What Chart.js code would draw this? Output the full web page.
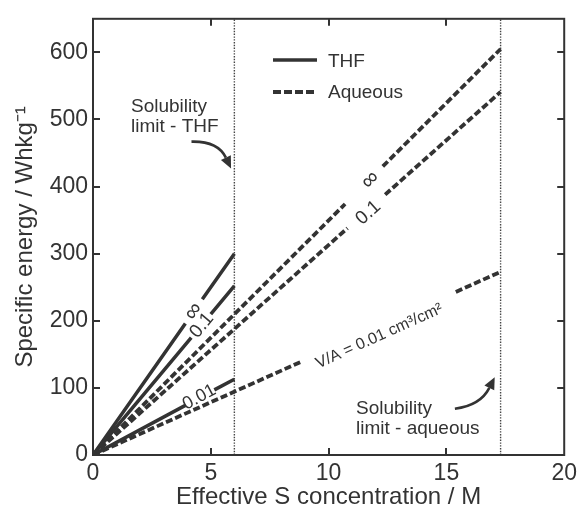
<!DOCTYPE html>
<html><head><meta charset="utf-8">
<script src="https://cdn.jsdelivr.net/npm/chart.js@4.4.1/dist/chart.umd.min.js"></script>
<style>html,body{margin:0;padding:0;background:#fff}#wrap{width:582px;height:512px}</style>
</head><body><div id="wrap"><canvas id="c" width="582" height="512"></canvas></div>
<script>
const FONT = '"Liberation Sans", Arial, Helvetica, sans-serif';
const INK = '#333333';

const xTicks = [0, 5, 10, 15, 20];
const yTicks = [0, 100, 200, 300, 400, 500, 600];

// THF (solid); null y = gap left for the in-line label
const thfInfX = [0, 3.92, 4.28, 4.64, 6];
const thfInfY = [0, 196, null, 232, 300];
const thf01X  = [0, 4.17, 4.6, 5.0, 6];
const thf01Y  = [0, 175, null, 210, 252];
const thf001X = [0, 3.92, 4.5, 5.15, 6];
const thf001Y = [0, 74, null, 97, 113];
// Aqueous (dashed)
const aqInfX = [0, 10.7, 11.5, 12.3, 17.3];
const aqInfY = [0, 374, null, 430, 605];
const aq01X  = [0, 10.8, 11.6, 12.4, 17.3];
const aq01Y  = [0, 338, null, 388, 541];
const aq001X = [0, 8.9, 12.1, 15.4, 17.3];
const aq001Y = [0, 140, null, 243, 273];

const solubilityLimits = [6, 17.3]; // THF, aqueous
const seriesLabels = ['\u221E', '0.1', '0.01', '\u221E', '0.1', 'V/A = 0.01 cm\u00B3/cm\u00B2'];
const legendLabels = ['THF', 'Aqueous'];

const pts = (xs, ys) => xs.map((x, i) => ({x: x, y: ys[i]}));
const solid = {borderColor: INK, borderWidth: 3.5, pointRadius: 0, showLine: true, spanGaps: false, fill: false};
const dashed = Object.assign({}, solid, {borderWidth: 3.8, borderDash: [7, 3], borderCapStyle: 'butt'});
const limitStyle = {borderColor: '#444', borderWidth: 1.4, borderDash: [1.4, 1.4], pointRadius: 0, showLine: true, fill: false};

const seriesDefs = [
  [thfInfX, thfInfY, solid], [thf01X, thf01Y, solid], [thf001X, thf001Y, solid],
  [aqInfX, aqInfY, dashed], [aq01X, aq01Y, dashed], [aq001X, aq001Y, dashed]
];
const datasets = seriesDefs.map(d => Object.assign({data: pts(d[0], d[1])}, d[2]));
solubilityLimits.forEach(v => datasets.push(Object.assign({data: [{x: v, y: 0}, {x: v, y: 650}]}, limitStyle)));

// label anchor (data coords) for each series label; angle follows the series
const labelAnchors = [[4.27, 214], [4.62, 193], [4.51, 86], [11.77, 410], [11.69, 361], [12.15, 177]];
const labelSizes = [23, 19, 18, 23, 19, 16];

const decor = {
  id: 'decor',
  afterDatasetsDraw(chart) {
    const ctx = chart.ctx, a = chart.chartArea, xs = chart.scales.x, ys = chart.scales.y;
    ctx.save();
    // box
    ctx.strokeStyle = INK; ctx.lineWidth = 2; ctx.setLineDash([]);
    ctx.strokeRect(a.left, a.top, a.right - a.left, a.bottom - a.top);
    // inward ticks all round
    ctx.beginPath();
    xTicks.slice(1, -1).forEach(v => {
      const p = Math.round(xs.getPixelForValue(v));
      ctx.moveTo(p, a.bottom); ctx.lineTo(p, a.bottom - 7);
      ctx.moveTo(p, a.top); ctx.lineTo(p, a.top + 7);
    });
    yTicks.slice(1).forEach(v => {
      const p = Math.round(ys.getPixelForValue(v));
      ctx.moveTo(a.left, p); ctx.lineTo(a.left + 7, p);
      ctx.moveTo(a.right, p); ctx.lineTo(a.right - 7, p);
    });
    ctx.stroke();

    // series labels, rotated along each line
    ctx.fillStyle = INK;
    seriesDefs.forEach((d, i) => {
      const X = d[0], Y = d[1], n = X.length - 1;
      const ang = Math.atan2(ys.getPixelForValue(Y[n]) - ys.getPixelForValue(Y[0]),
                             xs.getPixelForValue(X[n]) - xs.getPixelForValue(X[0]));
      const px = xs.getPixelForValue(labelAnchors[i][0]), py = ys.getPixelForValue(labelAnchors[i][1]);
      ctx.save();
      ctx.translate(px, py); ctx.rotate(ang);
      ctx.font = labelSizes[i] + 'px ' + FONT;
      ctx.textAlign = 'center'; ctx.textBaseline = 'middle';
      ctx.fillText(seriesLabels[i], 0, 0);
      ctx.restore();
    });

    // legend
    ctx.font = '19px ' + FONT; ctx.textAlign = 'left'; ctx.textBaseline = 'alphabetic';
    ctx.lineWidth = 3.5; ctx.strokeStyle = INK;
    ctx.beginPath(); ctx.setLineDash([]); ctx.moveTo(273, 60); ctx.lineTo(317, 60); ctx.stroke();
    ctx.lineWidth = 3.8;
    ctx.beginPath(); ctx.setLineDash([8, 3]); ctx.moveTo(273, 92); ctx.lineTo(317, 92); ctx.stroke();
    ctx.setLineDash([]);
    ctx.fillText(legendLabels[0], 328, 67);
    ctx.fillText(legendLabels[1], 328, 98);

    // solubility annotations
    ctx.fillText('Solubility', 131, 112);
    ctx.fillText('limit - THF', 131, 132);
    ctx.fillText('Solubility', 356, 414);
    ctx.fillText('limit - aqueous', 356, 434);

    // curved arrows (data coords)
    const arrow = (p0, c, p1) => {
      const P = p => [xs.getPixelForValue(p[0]), ys.getPixelForValue(p[1])];
      const s = P(p0), k = P(c), e = P(p1);
      const ang = Math.atan2(e[1] - k[1], e[0] - k[0]);
      const L = 12, W = 5.5;
      const bx = e[0] - L * Math.cos(ang), by = e[1] - L * Math.sin(ang);
      ctx.lineWidth = 2.6;
      ctx.beginPath(); ctx.moveTo(s[0], s[1]); ctx.quadraticCurveTo(k[0], k[1], bx, by); ctx.stroke();
      ctx.beginPath();
      ctx.moveTo(e[0], e[1]);
      ctx.lineTo(bx + W * Math.sin(ang), by - W * Math.cos(ang));
      ctx.lineTo(bx - W * Math.sin(ang), by + W * Math.cos(ang));
      ctx.closePath(); ctx.fill();
    };
    arrow([4.18, 467], [5.3, 468], [5.86, 427]);
    arrow([15.36, 69], [16.45, 74], [17.05, 116]);
    ctx.restore();
  }
};

new Chart(document.getElementById('c'), {
  type: 'scatter',
  data: {datasets: datasets},
  options: {
    responsive: false, animation: false, devicePixelRatio: 1,
    layout: {padding: {top: 14, right: 15, left: 0, bottom: 0}},
    plugins: {legend: {display: false}, tooltip: {enabled: false}},
    elements: {line: {tension: 0}},
    scales: {
      x: {
        type: 'linear', min: 0, max: 20,
        afterBuildTicks: s => { s.ticks = xTicks.map(v => ({value: v})); },
        afterFit: s => { s.height = 57; },
        grid: {display: false, drawTicks: false}, border: {display: false},
        ticks: {font: {size: 23, family: FONT}, color: INK, padding: 5, maxRotation: 0},
        title: {display: true, text: 'Effective S concentration / M', color: INK,
                font: {size: 24, family: FONT}, padding: {top: 0, bottom: 0}}
      },
      y: {
        type: 'linear', min: 0, max: 650,
        afterBuildTicks: s => { s.ticks = yTicks.map(v => ({value: v})); },
        afterFit: s => { s.width = 93; },
        grid: {display: false, drawTicks: false}, border: {display: false},
        ticks: {font: {size: 23, family: FONT}, color: INK, padding: 5},
        title: {display: true, text: 'Specific energy / Whkg\u207B\u00B9', color: INK,
                font: {size: 24, family: FONT}, padding: {top: 11, bottom: 0}}
      }
    }
  },
  plugins: [decor]
});
</script></body></html>
